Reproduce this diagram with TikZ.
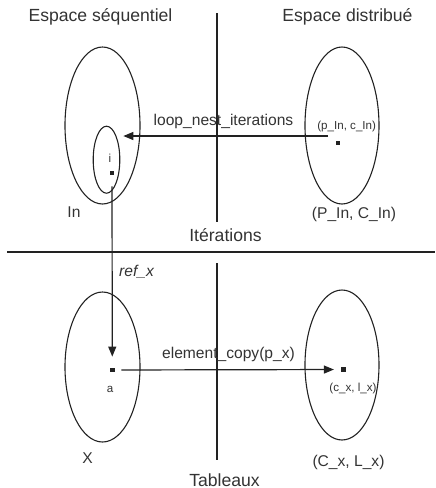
\documentclass[tikz,border=0pt]{standalone}
\usepackage{fontspec}
\setmainfont{Liberation Sans}
\usetikzlibrary{shapes.geometric,arrows.meta}
\definecolor{txt}{HTML}{333333}
\definecolor{ln}{HTML}{222222}
\begin{document}
\begin{tikzpicture}[x=0.5pt,y=-0.5pt,
  big/.style={text=txt,font=\fontsize{8.8}{10}\selectfont,inner sep=0},
  med/.style={text=txt,font=\fontsize{7.8}{9}\selectfont,inner sep=0},
  small/.style={text=txt,font=\fontsize{5.8}{7}\selectfont,inner sep=0},
  setshape/.style={draw=ln,line width=0.55pt,ellipse,inner sep=0},
  dotnode/.style={fill=ln,rectangle,minimum size=2.2pt,inner sep=0},
  divider/.style={draw=ln,line width=0.6pt},
  arr/.style={draw=ln,line width=0.6pt,-{Triangle[length=5pt,width=4pt]}}]
\useasboundingbox (0,0) rectangle (435,488);
% titles
\node[big] (t1) at (100.5,17) {Espace séquentiel};
\node[big] (t2) at (347.5,16.5) {Espace distribué};
% dividers
\coordinate (vt1) at (217,13);
\coordinate (vt2) at (217,222);
\coordinate (vb1) at (217,263);
\coordinate (vb2) at (217,460);
\coordinate (h1) at (7,252);
\coordinate (h2) at (435,252);
\draw[divider] (vt1) -- (vt2);
\draw[divider] (vb1) -- (vb2);
\draw[divider] (h1) -- (h2);
% top sets
\node[setshape,minimum width=37.5pt,minimum height=78.5pt] (In) at (102.5,125.5) {};
\node[setshape,minimum width=13.3pt,minimum height=33.5pt] (sub) at (106.5,159.7) {};
\node[setshape,minimum width=37pt,minimum height=78.5pt] (PIn) at (342,125.5) {};
\node[dotnode] (idot) at (112,173) {};
\node[dotnode] (pdot) at (338,143) {};
\node[small] (ilab) at (110,158) {i};
\node[small] (plab) at (346.7,126) {(p\_In, c\_In)};
\node[med] (Inlab) at (74,212.5) {In};
\node[med] (PInlab) at (354,214) {(P\_In, C\_In)};
\node[big] (iter) at (225.5,235) {Itérations};
\coordinate (src) at (328,136);
\draw[arr,shorten >=1.5pt] (src) -- (src -| sub.east);
\node[med] (loop) at (223.5,121.5) {loop\_nest\_iterations};
% bottom sets
\node[setshape,minimum width=37.5pt,minimum height=75pt] (X) at (102.5,367) {};
\node[setshape,minimum width=37pt,minimum height=75pt] (CX) at (342,365) {};
\node[dotnode] (adot) at (112.3,370) {};
\node[dotnode] (cdot) at (343.3,369.5) {};
\node[small] (alab) at (110,389) {a};
\node[small] (clab) at (353,388) {(c\_x, l\_x)};
\node[med] (Xlab) at (87.5,458) {X};
\node[med] (CXlab) at (348.5,462.5) {(C\_x, L\_x)};
\node[big] (tab) at (224.5,480) {Tableaux};
\draw[arr,shorten <=5.4pt,shorten >=5.4pt] (idot) -- (adot);
\node[med,font=\fontsize{7.8}{9}\selectfont\itshape] (ref) at (136.5,271.5) {ref\_x};
\draw[arr,shorten <=3.2pt,shorten >=3.4pt] (adot) -- (cdot);
\node[med] (copy) at (228.5,354) {element\_copy(p\_x)};
\end{tikzpicture}
\end{document}
